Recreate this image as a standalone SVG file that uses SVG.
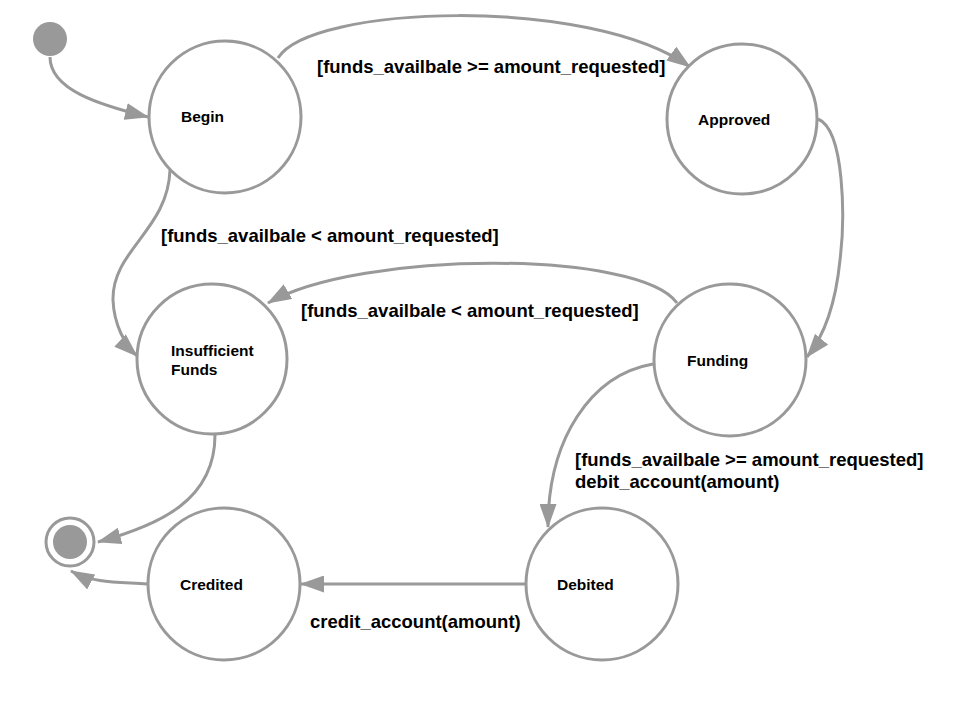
<svg xmlns="http://www.w3.org/2000/svg" width="960" height="720" viewBox="0 0 960 720">
<style>
.st{fill:#fff;stroke:#999;stroke-width:3}
.nl{font-family:"Liberation Sans",Arial,sans-serif;font-weight:bold;font-size:15.5px;fill:#000}
.el{font-family:"Liberation Sans",Arial,sans-serif;font-weight:bold;font-size:18.5px;fill:#000}
.cn{fill:none;stroke:#999;stroke-width:3;marker-end:url(#ah)}
</style>
<defs>
<marker id="ah" viewBox="0 0 24 17" refX="23" refY="8.5" markerWidth="24" markerHeight="17" markerUnits="userSpaceOnUse" orient="auto">
<path d="M0,0 L24,8.5 L0,17 z" fill="#999"/>
</marker>
</defs>
<rect width="960" height="720" fill="#fff"/>
<g id="connectors">
<path class="cn" d="M50,57 C50,90 100,105 148,117"/>
<path class="cn" d="M278,58 C310,5 590,-5 690,67"/>
<path class="cn" d="M170,170 C168,230 112,250 113,300 C114,325 125,345 137,356"/>
<path class="cn" d="M818,119 C845,130 845,220 840,260 C836,300 825,335 807,357"/>
<path class="cn" d="M677,303 C640,250 360,250 268,303"/>
<path class="cn" d="M653,364 C590,375 548,440 548,527"/>
<path class="cn" d="M526,584 L301,584"/>
<path class="cn" d="M147,584 C120,582 95,584 71,571"/>
<path class="cn" d="M215,435 C215,500 160,525 98,542"/>
</g>
<g id="labels">
<text class="el" x="317" y="73">[funds_availbale &gt;= amount_requested]</text>
<text class="el" x="161" y="242">[funds_availbale &lt; amount_requested]</text>
<text class="el" x="301" y="317">[funds_availbale &lt; amount_requested]</text>
<text class="el" x="575" y="466">[funds_availbale &gt;= amount_requested]</text>
<text class="el" x="575" y="488">debit_account(amount)</text>
<text class="el" x="310" y="628">credit_account(amount)</text>
</g>
<g id="start"><circle cx="50" cy="39" r="17" fill="#999"/></g>
<g id="end"><circle cx="70" cy="542" r="24" fill="#fff" stroke="#999" stroke-width="3"/><circle cx="70" cy="542" r="17" fill="#999"/></g>
<g id="begin"><circle class="st" cx="225" cy="117" r="76"/><text class="nl" x="181" y="122">Begin</text></g>
<g id="approved"><circle class="st" cx="742" cy="119" r="75"/><text class="nl" x="698" y="125">Approved</text></g>
<g id="insufficient"><circle class="st" cx="212" cy="359" r="75"/><text class="nl" x="171" y="356">Insufficient</text><text class="nl" x="171" y="375">Funds</text></g>
<g id="funding"><circle class="st" cx="730" cy="360" r="76"/><text class="nl" x="687" y="366">Funding</text></g>
<g id="credited"><circle class="st" cx="224" cy="584" r="76"/><text class="nl" x="180" y="590">Credited</text></g>
<g id="debited"><circle class="st" cx="602" cy="584" r="76"/><text class="nl" x="557" y="590">Debited</text></g>
</svg>
